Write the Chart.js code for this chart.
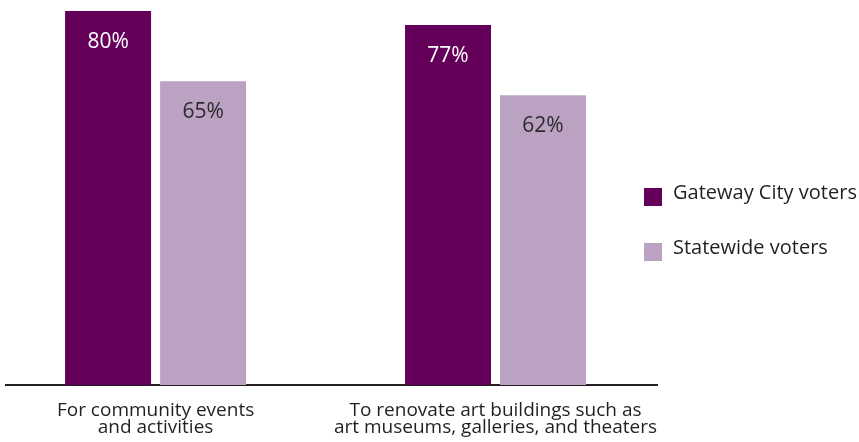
<!DOCTYPE html>
<html>
<head>
<meta charset="utf-8">
<script src="https://cdn.jsdelivr.net/npm/chart.js@4/dist/chart.umd.min.js"></script>
<style>
    html, body { margin: 0; padding: 0; background: #fff; }
    #wrap { width: 859px; height: 442px; position: relative; }
</style>
</head>
<body>
<div id="wrap"><canvas id="artsChart"></canvas></div>
<script>
// Share of voters supporting public arts funding, by purpose
const categories = [
    ['For community events', 'and activities'],
    ['To renovate art buildings such as', 'art museums, galleries, and theaters']
];
const seriesNames = ['Gateway City voters', 'Statewide voters'];
const gatewayValues = [80, 77];
const statewideValues = [65, 62];
const seriesColors = ['#65005a', '#bba2c2'];
const labelColors = ['#ffffff', '#2b2b2b'];

const FONT = '"Open Sans", "Noto Sans", sans-serif';
const TEXT = '#231f20';

// Percent labels inside the top of each bar
const barValueLabels = {
    id: 'barValueLabels',
    afterDatasetsDraw(chart) {
        const ctx = chart.ctx;
        ctx.save();
        ctx.font = '21px ' + FONT;
        ctx.textAlign = 'center';
        ctx.textBaseline = 'middle';
        chart.data.datasets.forEach((ds, di) => {
            const meta = chart.getDatasetMeta(di);
            ctx.fillStyle = labelColors[di];
            meta.data.forEach((bar, i) => {
                ctx.fillText(ds.data[i].y + '%', bar.x, bar.y + 31);
            });
        });
        ctx.restore();
    }
};

// Legend stacked to the right of the plot
const sideLegend = {
    id: 'sideLegend',
    afterDraw(chart) {
        const ctx = chart.ctx;
        const left = chart.chartArea.right - 13;
        const box = 18;
        ctx.save();
        ctx.font = '20px ' + FONT;
        ctx.textAlign = 'left';
        ctx.textBaseline = 'middle';
        chart.data.datasets.forEach((ds, i) => {
            const top = 188 + i * 55;
            ctx.fillStyle = ds.backgroundColor;
            ctx.fillRect(left, top, box, box);
            ctx.fillStyle = TEXT;
            ctx.fillText(ds.label, left + box + 11, top + box / 2 - 4);
        });
        ctx.restore();
    }
};

const toPoints = values => values.map((v, i) => ({ x: i, y: v }));

new Chart(document.getElementById('artsChart'), {
    type: 'bar',
    data: {
        datasets: [
            {
                label: seriesNames[0],
                data: toPoints(gatewayValues),
                backgroundColor: seriesColors[0]
            },
            {
                label: seriesNames[1],
                data: toPoints(statewideValues),
                backgroundColor: seriesColors[1]
            }
        ]
    },
    options: {
        responsive: true,
        maintainAspectRatio: false,
        animation: false,
        categoryPercentage: 0.559,
        barPercentage: 0.905,
        layout: {
            padding: { top: 11, left: 6, right: 202, bottom: 0 }
        },
        plugins: {
            legend: { display: false },
            tooltip: { enabled: false }
        },
        scales: {
            x: {
                type: 'linear',
                offset: false,
                min: -0.44,
                max: 1.475,
                afterBuildTicks(scale) {
                    scale.ticks = categories.map((c, i) => ({ value: i }));
                },
                afterFit(scale) {
                    scale.height = 57;
                },
                grid: { display: false, drawTicks: false },
                border: { display: true, color: TEXT, width: 2 },
                ticks: {
                    autoSkip: false,
                    maxRotation: 0,
                    padding: 17,
                    color: TEXT,
                    font: { family: FONT, size: 19, lineHeight: 0.9 },
                    callback: value => categories[value]
                }
            },
            y: {
                display: false,
                min: 0,
                max: 80
            }
        }
    },
    plugins: [barValueLabels, sideLegend]
});
</script>
</body>
</html>
